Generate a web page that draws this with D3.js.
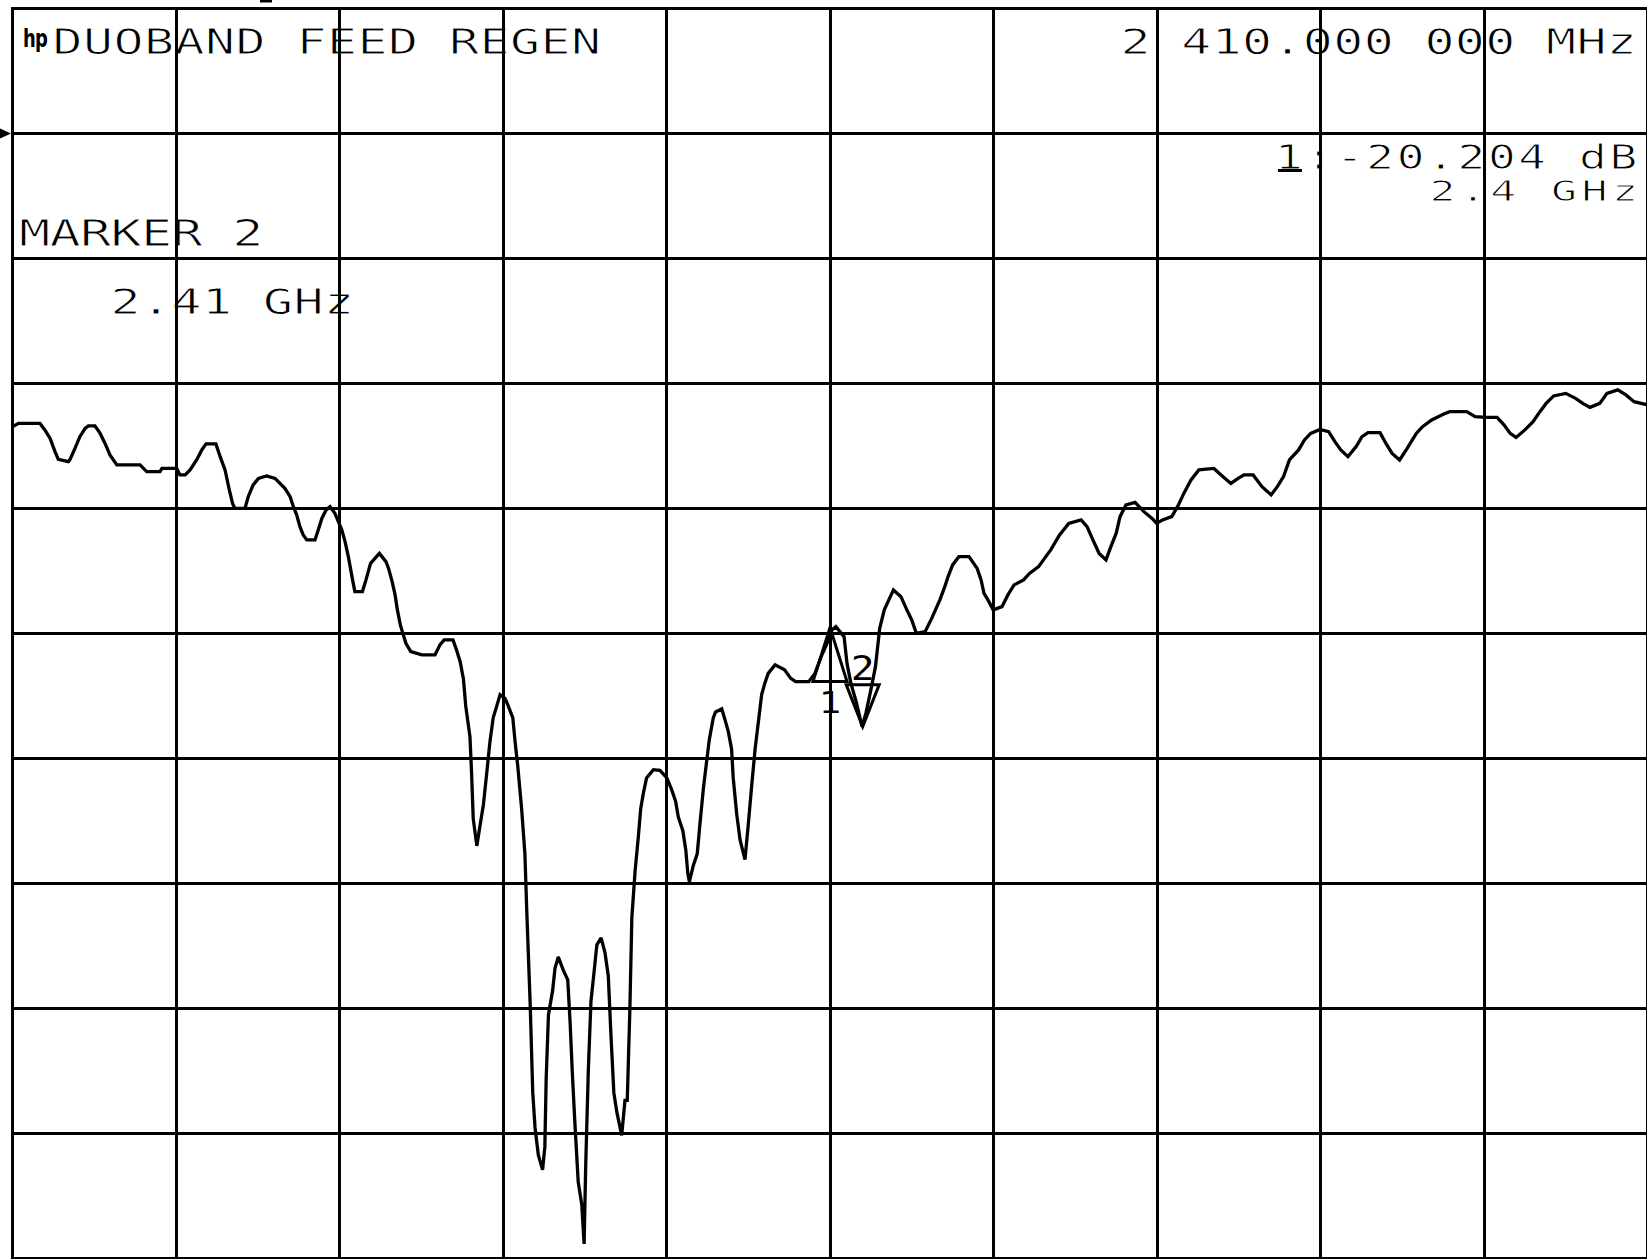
<!DOCTYPE html>
<meta charset="utf-8">
<style>
  html, body { margin: 0; padding: 0; background: #fff; overflow: hidden; }
  svg { display: block; }
</style>
<body>
<script src="https://d3js.org/d3.v7.min.js"></script>
<script>

  // trace vertices: frequency (MHz) and magnitude (dB)
  let freqMHz = [
    2150.1, 2151.8, 2158.4, 2159.9, 2161.5, 2163.0, 2164.0, 2167.1, 2167.6, 2169.1,
    2170.6, 2172.2, 2173.2, 2175.2, 2176.8, 2178.3, 2179.8, 2181.9, 2189.0, 2190.5,
    2191.1, 2195.1, 2195.7, 2200.2, 2201.2, 2202.8, 2204.3, 2206.3, 2207.9, 2209.2,
    2212.2, 2213.5, 2215.0, 2216.3, 2217.3, 2218.0, 2221.1, 2222.1, 2223.6, 2225.2,
    2227.7, 2230.3, 2231.8, 2233.3, 2234.9, 2235.9, 2236.9, 2237.9, 2238.9, 2240.0,
    2242.5, 2243.5, 2244.6, 2245.9, 2247.1, 2248.6, 2250.7, 2251.7, 2252.7, 2254.0,
    2254.7, 2257.0, 2258.1, 2259.5, 2262.2, 2264.2, 2265.0, 2266.1, 2267.0, 2267.7,
    2268.6, 2269.7, 2270.3, 2271.8, 2275.2, 2279.2, 2280.7, 2282.0, 2284.7, 2285.8,
    2286.9, 2287.9, 2288.6, 2289.9, 2290.4, 2290.9, 2292.0, 2293.0, 2294.0, 2295.0,
    2296.0, 2297.0, 2298.1, 2299.1, 2300.6, 2301.6, 2303.0, 2303.7, 2304.5, 2305.7,
    2306.7, 2307.3, 2308.3, 2309.1, 2309.8, 2310.8, 2312.1, 2312.8, 2313.2, 2313.9,
    2315.2, 2315.9, 2316.9, 2318.4, 2319.8, 2320.5, 2321.2, 2322.0, 2323.0, 2324.1,
    2324.8, 2325.3, 2326.1, 2326.9, 2327.9, 2328.7, 2330.0, 2331.2, 2332.2, 2333.0,
    2333.9, 2334.8, 2336.3, 2337.3, 2338.0, 2338.8, 2339.4, 2340.4, 2341.4, 2342.1,
    2342.9, 2343.9, 2346.0, 2348.0, 2350.1, 2351.6, 2352.8, 2353.6, 2355.0, 2355.9,
    2356.5, 2357.0, 2358.2, 2359.4, 2360.2, 2361.3, 2362.3, 2363.1, 2364.3, 2365.0,
    2366.9, 2367.9, 2368.9, 2369.9, 2370.4, 2371.5, 2372.5, 2374.0, 2375.0, 2376.1,
    2377.1, 2378.1, 2379.1, 2380.1, 2381.1, 2383.2, 2386.1, 2388.0, 2389.5, 2393.5,
    2395.4, 2397.3, 2399.1, 2400.6, 2401.8, 2404.3, 2405.2, 2406.4, 2408.0, 2409.8,
    2411.0, 2412.5, 2413.9, 2415.2, 2416.6, 2419.4, 2421.7, 2423.5, 2425.0, 2426.4,
    2429.1, 2431.1, 2433.6, 2435.1, 2436.1, 2437.5, 2439.4, 2442.5, 2445.0, 2446.2,
    2447.1, 2448.6, 2449.9, 2452.6, 2454.4, 2456.3, 2459.2, 2461.0, 2463.8, 2465.6,
    2467.5, 2470.2, 2473.0, 2476.8, 2478.6, 2480.4, 2482.3, 2484.4, 2485.9, 2487.5,
    2488.7, 2490.5, 2493.3, 2496.0, 2498.5, 2499.9, 2501.7, 2504.5, 2506.3, 2508.2,
    2510.4, 2512.8, 2517.4, 2520.2, 2522.6, 2524.8, 2526.6, 2529.4, 2532.1, 2534.9,
    2536.8, 2538.7, 2540.5, 2543.3, 2545.1, 2547.0, 2549.8, 2552.5, 2554.4, 2556.2,
    2558.4, 2560.9, 2562.7, 2564.5, 2568.2, 2570.0, 2571.9, 2574.2, 2576.5, 2579.3,
    2581.2, 2584.0, 2587.7, 2589.5, 2594.7, 2597.3, 2600.6, 2604.0, 2606.1, 2608.0,
    2609.8, 2612.5, 2615.0, 2617.1, 2619.0, 2621.3, 2625.0, 2628.0, 2630.2, 2632.4,
    2635.4, 2637.6, 2640.9, 2643.4, 2645.9, 2650.0
  ];

  let magDB = [
    -11.73, -11.60, -11.60, -11.86, -12.20, -12.73, -13.04, -13.13, -13.04, -12.60,
    -12.13, -11.80, -11.70, -11.70, -12.00, -12.40, -12.86, -13.26, -13.26, -13.46,
    -13.53, -13.53, -13.40, -13.40, -13.66, -13.66, -13.46, -13.06, -12.66, -12.42,
    -12.42, -12.93, -13.46, -14.26, -14.80, -15.00, -15.00, -14.53, -14.06, -13.80,
    -13.70, -13.80, -14.00, -14.20, -14.53, -14.93, -15.26, -15.73, -16.06, -16.26,
    -16.26, -15.86, -15.40, -15.06, -14.93, -15.20, -15.86, -16.33, -16.93, -17.86,
    -18.33, -18.33, -17.86, -17.20, -16.80, -17.13, -17.40, -17.93, -18.46, -19.06,
    -19.66, -20.13, -20.40, -20.73, -20.86, -20.86, -20.46, -20.26, -20.26, -20.66,
    -21.13, -21.82, -22.90, -24.14, -25.62, -27.42, -28.50, -27.66, -26.86, -25.62,
    -24.34, -23.38, -22.90, -22.45, -22.60, -22.90, -23.38, -24.34, -25.29, -27.02,
    -28.82, -31.22, -34.78, -38.37, -39.77, -40.86, -41.46, -40.54, -37.82, -35.26,
    -34.26, -33.40, -32.94, -33.46, -33.86, -35.50, -37.58, -39.62, -41.94, -42.86,
    -44.42, -41.25, -37.44, -34.72, -33.48, -32.46, -32.18, -32.78, -33.70, -36.04,
    -38.37, -39.14, -40.08, -38.68, -38.68, -35.02, -31.38, -29.50, -28.12, -27.02,
    -26.41, -25.78, -25.45, -25.48, -25.78, -26.26, -26.72, -27.34, -27.89, -28.66,
    -29.58, -29.94, -29.28, -28.82, -27.66, -26.18, -25.09, -24.24, -23.38, -23.14,
    -23.02, -23.46, -23.93, -24.62, -25.78, -27.26, -28.26, -29.05, -27.66, -26.02,
    -24.62, -23.54, -22.45, -21.98, -21.60, -21.26, -21.46, -21.80, -21.93, -21.93,
    -21.60, -20.93, -20.40, -19.86, -19.73, -20.13, -21.20, -22.00, -22.73, -23.73,
    -23.18, -22.26, -21.33, -19.80, -19.06, -18.26, -18.53, -19.06, -19.46, -20.00,
    -19.93, -19.40, -18.66, -18.13, -17.73, -17.26, -16.93, -16.93, -17.40, -17.86,
    -18.40, -18.73, -19.06, -18.93, -18.46, -18.06, -17.86, -17.60, -17.33, -17.00,
    -16.66, -16.06, -15.60, -15.46, -15.73, -16.26, -16.80, -17.06, -16.53, -16.00,
    -15.33, -14.86, -14.76, -15.13, -15.40, -15.60, -15.46, -15.33, -14.93, -14.40,
    -13.86, -13.46, -13.40, -13.73, -14.00, -13.80, -13.66, -13.66, -14.13, -14.46,
    -14.13, -13.73, -13.06, -12.66, -12.26, -12.00, -11.84, -11.93, -12.33, -12.66,
    -12.93, -12.53, -12.13, -11.97, -11.97, -12.40, -12.80, -13.06, -12.60, -12.00,
    -11.73, -11.46, -11.22, -11.13, -11.13, -11.33, -11.36, -11.36, -11.66, -12.00,
    -12.16, -11.86, -11.53, -11.13, -10.80, -10.50, -10.40, -10.60, -10.80, -10.96,
    -10.80, -10.40, -10.26, -10.46, -10.73, -10.86
  ];

  // sweep and scale settings
  let startMHz = 2150,
    stopMHz = 2650,
    stepMHz = 50,
    topDB = 5,
    bottomDB = -45,
    stepDB = 5,
    refDB = 0;

  // markers
  let markerFreq = [2400, 2410],
    markerDB = [-20.204, -23.73],
    markerName = ["1", "2"];

  // annotation texts
  let titleText = "DUOBAND FEED REGEN",
    activeLabel = "MARKER 2",
    activeValue = "2.41 GHz",
    activeFreqText = "2 410.000 000 MHz",
    refMarkerValue = "1:-20.204 dB",
    refMarkerFreq = "2.4 GHz";

  let width = 1647,
    height = 1259;

  let svg = d3.select("body").append("svg")
    .attr("width", width)
    .attr("height", height)
    .style("background", "#fff");

  let x = d3.scaleLinear().domain([startMHz, stopMHz]).range([12.5, 1647.5]);
  let y = d3.scaleLinear().domain([topDB, bottomDB]).range([8.4, 1258.4]);

  let fTicks = d3.range(startMHz, stopMHz + 1, stepMHz),
    dbTicks = d3.range(topDB, bottomDB - 1, -stepDB);

  // text goes underneath so the grid stays unbroken
  let textLayer = svg.append("g");

  // plotter-style monospaced text: one glyph per fixed cell, thinned with a white edge
  function hpText(str, left, baseline, cap, pitch, sx, gw) {
    sx = sx || 1.4;
    gw = gw || 23;
    let fs = cap / 0.729;
    return textLayer.append("text")
      .attr("transform", "translate(" + left + "," + baseline + ") scale(" + sx + ",1)")
      .attr("x", d3.range(str.length).map(i => ((gw / 2 + i * pitch) / sx).toFixed(2)).join(" "))
      .attr("y", 0)
      .attr("text-anchor", "middle")
      .attr("font-family", "DejaVu Sans Mono, monospace")
      .attr("font-size", fs)
      .attr("fill", "#000")
      .attr("stroke", "#fff")
      .attr("stroke-width", 0.9)
      .text(str);
  }

  // hp logo
  textLayer.append("text")
    .attr("transform", "translate(23,47) scale(0.72,1)")
    .attr("font-family", "DejaVu Sans, sans-serif")
    .attr("font-weight", "bold")
    .attr("font-size", 25)
    .attr("letter-spacing", -1)
    .text("hp");

  hpText(titleText, 56, 54, 26, 30.5);
  hpText(activeLabel, 23, 245.5, 27, 30.5);
  hpText(activeValue, 114, 313.5, 26, 30.5);
  hpText(activeFreqText, 1124, 54, 26, 30.4);
  hpText(refMarkerValue, 1278, 169, 24, 30.4, 1.4, 22);
  hpText(refMarkerFreq, 1432, 200.5, 21, 30.4, 1.5, 21);

  // underline under the reference marker number
  textLayer.append("line")
    .attr("x1", 1278).attr("x2", 1302)
    .attr("y1", 170.5).attr("y2", 170.5)
    .attr("stroke", "#000").attr("stroke-width", 3);

  // graticule
  let grid = svg.append("g")
    .attr("stroke", "#000")
    .attr("stroke-width", 3)
    .attr("shape-rendering", "crispEdges");

  grid.selectAll("line.v")
    .data(fTicks)
    .enter().append("line")
    .attr("class", "v")
    .attr("x1", d => x(d)).attr("x2", d => x(d))
    .attr("y1", y(topDB) - 1.5).attr("y2", y(bottomDB) + 1.5);

  grid.selectAll("line.h")
    .data(dbTicks)
    .enter().append("line")
    .attr("class", "h")
    .attr("y1", d => y(d)).attr("y2", d => y(d))
    .attr("x1", x(startMHz) - 1.5).attr("x2", x(stopMHz) + 1.5);

  // reference level pointer at the left edge
  let ry = y(refDB);
  svg.append("path")
    .attr("d", "M0," + (ry - 5) + "L11," + ry + "L0," + (ry + 5) + "Z")
    .attr("fill", "#000");

  // little cut-off mark above the graticule
  svg.append("rect")
    .attr("x", 260).attr("y", 0).attr("width", 12).attr("height", 2.5)
    .attr("fill", "#000");

  // trace
  let pts = freqMHz.map((f, i) => [f, magDB[i]]);
  let line = d3.line()
    .x(d => x(d[0]))
    .y(d => y(d[1]));

  svg.append("path")
    .datum(pts)
    .attr("d", line)
    .attr("fill", "none")
    .attr("stroke", "#000")
    .attr("stroke-width", 3.3)
    .attr("stroke-linejoin", "miter")
    .attr("stroke-miterlimit", 2);

  // marker symbols
  let mk = svg.append("g")
    .attr("fill", "none")
    .attr("stroke", "#000")
    .attr("stroke-width", 3);

  markerFreq.forEach(function(f, i) {
    let mx = x(f), my = y(markerDB[i]);
    if (i === 0) {
      // inactive marker: open triangle, number below
      mk.append("path")
        .attr("d", "M" + mx + "," + (my - 11) + "L" + (mx + 17) + "," + (my + 43) +
          "L" + (mx - 17) + "," + (my + 43) + "Z");
      svg.append("text")
        .attr("transform", "translate(" + mx + "," + (my + 74.5) + ") scale(1.2,1)")
        .attr("text-anchor", "middle")
        .attr("font-family", "DejaVu Sans Mono, monospace")
        .attr("font-size", 31)
        .attr("fill", "#000")
        .text(markerName[i]);
    } else {
      // active marker: inverted triangle pointing at the trace, number above
      mk.append("path")
        .attr("d", "M" + mx + "," + my + "L" + (mx + 16.5) + "," + (my - 42) +
          "L" + (mx - 16.5) + "," + (my - 42) + "Z");
      svg.append("text")
        .attr("transform", "translate(" + mx + "," + (my - 47) + ") scale(1.2,1)")
        .attr("text-anchor", "middle")
        .attr("font-family", "DejaVu Sans Mono, monospace")
        .attr("font-size", 33)
        .attr("fill", "#000")
        .text(markerName[i]);
    }
  });

</script>
